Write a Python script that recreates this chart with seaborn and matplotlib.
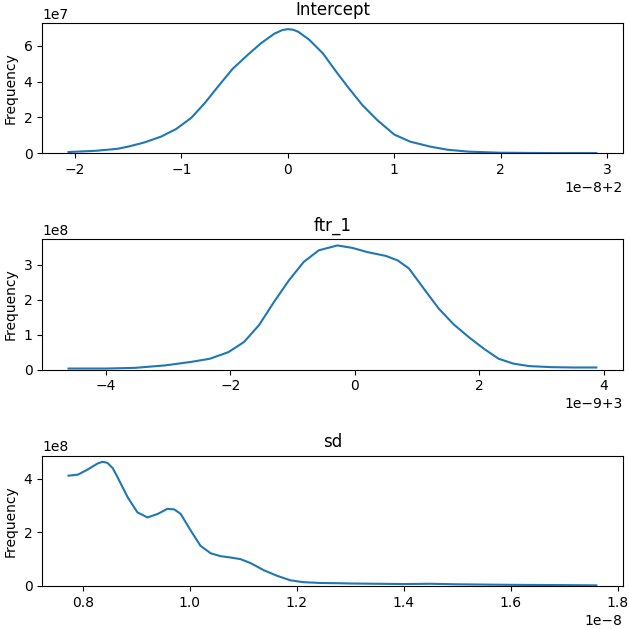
import numpy as np
import pandas as pd
import matplotlib
matplotlib.use("Agg")
import matplotlib.pyplot as plt
import seaborn as sns

# Intercept: x offset units 1e-8 around 2, y in 1e7
intercept_x = [-2.06, -1.8, -1.6, -1.5, -1.35, -1.19, -1.05, -0.906, -0.78, -0.656, -0.52,
               -0.375, -0.25, -0.125, -0.05, 0.0, 0.05, 0.1, 0.2, 0.33, 0.45, 0.5625, 0.7,
               0.84, 1.0, 1.15, 1.34, 1.5, 1.7, 2.0, 2.5, 2.9]
intercept_y = [0.07, 0.14, 0.25, 0.37, 0.6, 0.93, 1.35, 1.98, 2.8, 3.72, 4.7,
               5.5, 6.15, 6.68, 6.88, 6.93, 6.9, 6.78, 6.35, 5.58, 4.6, 3.72, 2.7,
               1.86, 1.05, 0.65, 0.37, 0.2, 0.09, 0.03, 0.01, 0.01]

# ftr_1: x offset units 1e-9 around 3, y in 1e8
ftr_x = [-4.6, -4.0, -3.53, -3.05, -2.63, -2.33, -2.03, -1.78, -1.54, -1.3, -1.06, -0.82,
         -0.58, -0.28, -0.04, 0.2, 0.5, 0.69, 0.87, 1.11, 1.35, 1.59, 1.83, 2.07, 2.31,
         2.55, 2.8, 3.16, 3.52, 3.88]
ftr_y = [0.03, 0.03, 0.05, 0.12, 0.22, 0.31, 0.5, 0.79, 1.27, 1.93, 2.55, 3.08,
         3.41, 3.55, 3.48, 3.36, 3.25, 3.12, 2.89, 2.31, 1.74, 1.29, 0.93, 0.6, 0.31,
         0.17, 0.1, 0.07, 0.06, 0.06]

# sd: x in 1e-8, y in 1e8
sd_x = [0.7733, 0.791, 0.809, 0.828, 0.837, 0.846, 0.856, 0.865, 0.884, 0.902, 0.921, 0.94,
        0.958, 0.971, 0.983, 1.002, 1.02, 1.039, 1.058, 1.077, 1.095, 1.114, 1.138, 1.163,
        1.188, 1.212, 1.244, 1.28, 1.3, 1.4, 1.45, 1.5, 1.6, 1.7, 1.76]
sd_y = [4.12, 4.16, 4.35, 4.58, 4.64, 4.6, 4.4, 4.06, 3.31, 2.75, 2.56, 2.69,
        2.88, 2.86, 2.69, 2.06, 1.5, 1.22, 1.11, 1.06, 1.0, 0.85, 0.59, 0.38,
        0.21, 0.14, 0.11, 0.1, 0.09, 0.07, 0.08, 0.06, 0.04, 0.03, 0.02]

titles = ["Intercept", "ftr_1", "sd"]

fig, axes = plt.subplots(3, 1, figsize=(6.29, 6.29), dpi=100)
fig.subplots_adjust(left=0.067, right=0.99, top=0.9635, bottom=0.0685, hspace=0.66)

series = [
    (2 + np.array(intercept_x) * 1e-8, np.array(intercept_y) * 1e7),
    (3 + np.array(ftr_x) * 1e-9, np.array(ftr_y) * 1e8),
    (np.array(sd_x) * 1e-8, np.array(sd_y) * 1e8),
]

for ax, (x, y), t in zip(axes, series, titles):
    df = pd.DataFrame({"x": x, "y": y})
    sns.lineplot(data=df, x="x", y="y", ax=ax, color="#1f77b4", linewidth=1.5)
    ax.set_title(t)
    ax.set_xlabel("")
    ax.set_ylabel("Frequency")
    ax.set_ylim(bottom=0)

fig.savefig("out.png", dpi=100)
